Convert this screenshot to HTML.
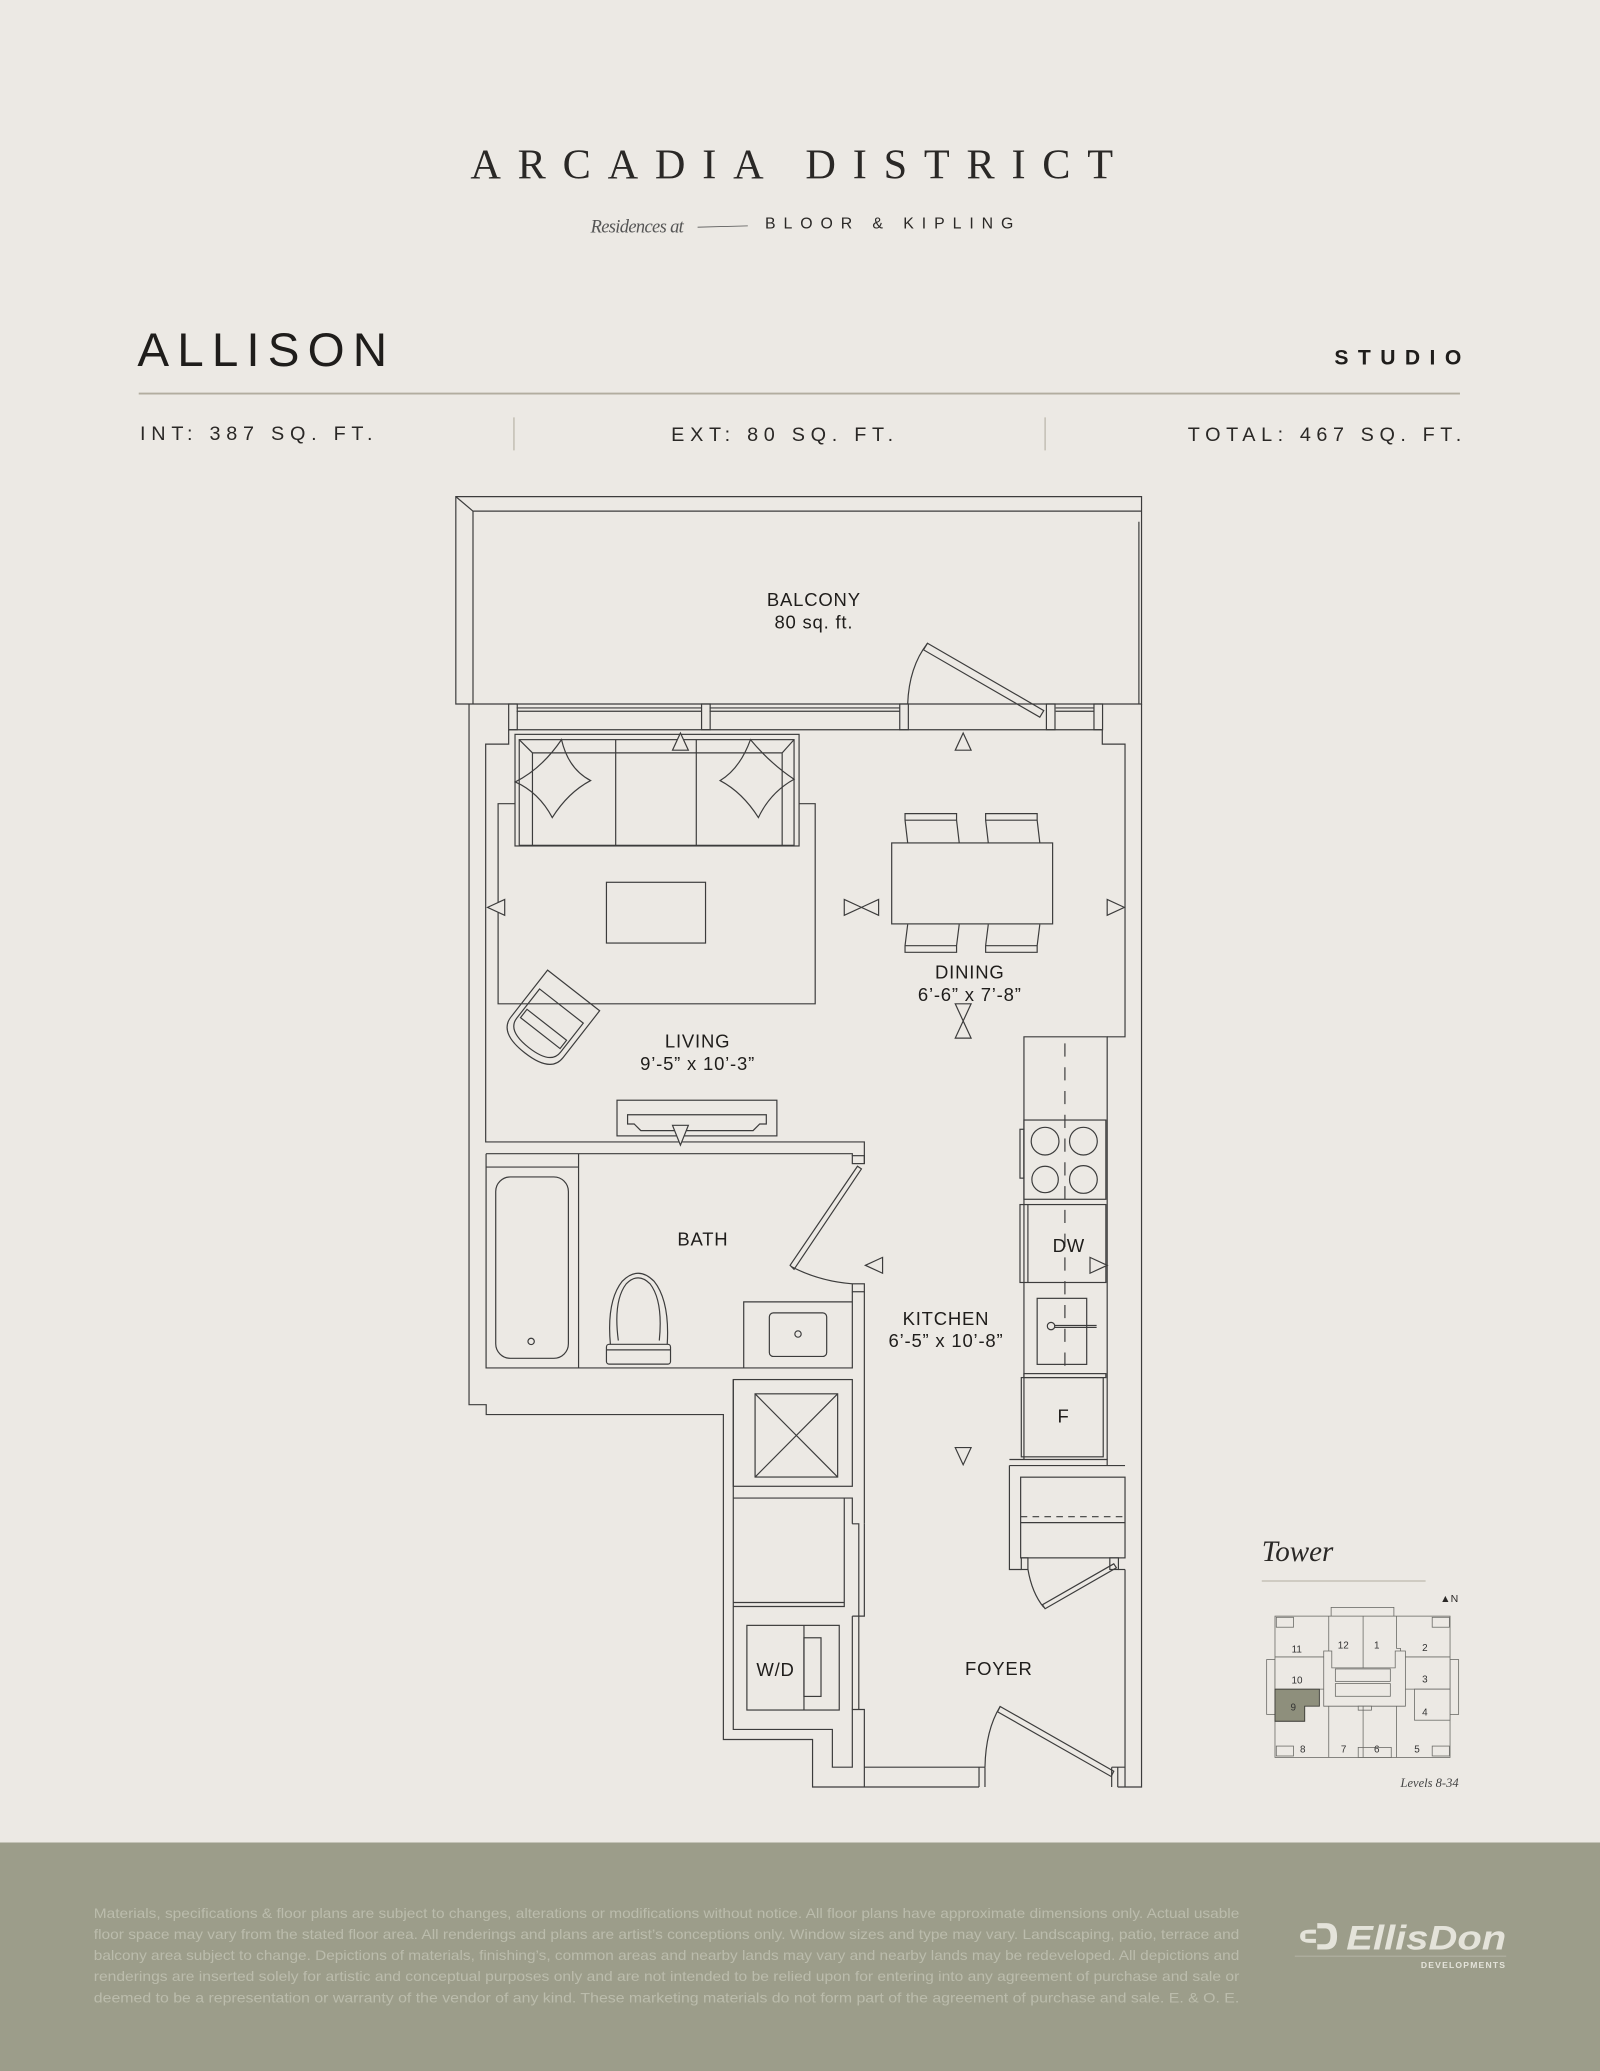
<!DOCTYPE html>
<html><head><meta charset="utf-8"><style>
html,body{margin:0;padding:0;background:#ece9e4;}
svg{display:block;}
</style></head><body>
<svg width="1600" height="2071" viewBox="0 0 1211 1568" preserveAspectRatio="none" xmlns="http://www.w3.org/2000/svg">
<rect width="1211" height="1568" fill="#ece9e4"/>
<!-- header -->
<text x="606" y="135" text-anchor="middle" font-family="Liberation Serif, serif" font-size="32" letter-spacing="13.5" fill="#2a2826" textLength="500" lengthAdjust="spacing">ARCADIA DISTRICT</text>
<text x="447" y="176" font-family="Liberation Serif, serif" font-style="italic" font-size="14" fill="#555" letter-spacing="-0.5">Residences at</text>
<line x1="528" y1="172" x2="566" y2="171" stroke="#555" stroke-width="0.6"/>
<text x="579" y="173" font-family="Liberation Sans, sans-serif" font-size="12" fill="#2a2826" textLength="188" lengthAdjust="spacing">BLOOR &amp; KIPLING</text>
<text x="104" y="277" font-family="Liberation Sans, sans-serif" font-size="36" fill="#1f1d1b" textLength="189" lengthAdjust="spacing">ALLISON</text>
<text x="1010" y="276" font-family="Liberation Sans, sans-serif" font-weight="bold" font-size="16" fill="#1f1d1b" textLength="96" lengthAdjust="spacing">STUDIO</text>
<line x1="105" y1="298" x2="1105" y2="298" stroke="#b2ad9f" stroke-width="1.4"/>
<text x="106" y="333" font-family="Liberation Sans, sans-serif" font-size="15" fill="#2a2826" textLength="176" lengthAdjust="spacing">INT: 387 SQ. FT.</text>
<text x="508" y="334" font-family="Liberation Sans, sans-serif" font-size="15" fill="#2a2826" textLength="168" lengthAdjust="spacing">EXT: 80 SQ. FT.</text>
<text x="899" y="334" font-family="Liberation Sans, sans-serif" font-size="15" fill="#2a2826" textLength="207" lengthAdjust="spacing">TOTAL: 467 SQ. FT.</text>
<line x1="389" y1="316" x2="389" y2="341" stroke="#b2ad9f" stroke-width="0.8"/>
<line x1="791" y1="316" x2="791" y2="341" stroke="#b2ad9f" stroke-width="0.8"/>

<!-- floor plan -->
<g fill="none" stroke="#3c3c3c" stroke-width="0.9" stroke-linejoin="miter">
<path d="M345 533 V376 H864 V533 Z"/>
<path d="M358 533 V387 H864"/>
<line x1="345" y1="376" x2="358" y2="387"/>
<line x1="862" y1="395" x2="862" y2="533"/>
<line x1="385" y1="552.5" x2="834" y2="552.5"/>
<path d="M391 536 H531 M391 538.5 H531 M537 536 H681 M537 538.5 H681 M799 536 H828 M799 538.5 H828"/>
<rect x="385" y="533" width="6.5" height="19.5"/>
<rect x="531" y="533" width="6.5" height="19.5"/>
<rect x="681" y="533" width="6.5" height="19.5"/>
<rect x="792" y="533" width="6.5" height="19.5"/>
<rect x="828" y="533" width="6.5" height="19.5"/>
<path d="M702 487 L790 538 L787 543 L699 492 Z"/>
<path d="M687 533 Q688 505 702 487"/>
<path d="M355 533 V1063.5 H368 V1071 H547.5 V1317 H615 V1353 H741"/>
<path d="M846 1353 H864 V533"/>
<path d="M385 552.5 V563.4 H367.6 V864.6 H654.2 V881"/>
<path d="M834.3 552.5 V563.4 H851.5 V785 H838"/>
<path d="M367.9 873.5 H645.1 V875"/>
<rect x="645.1" y="875" width="9.1" height="6"/>
<rect x="645.1" y="972" width="9.1" height="6"/>
<path d="M367.9 873.5 V1035.7 H645.1 V978"/>
<path d="M654.2 978 V1153.7"/>
<path d="M649 883 L598 958 L601 961 L652 885 Z"/>
<path d="M599 959 Q620 970 645 972"/>
<line x1="437.9" y1="873.5" x2="437.9" y2="1035.7"/>
<line x1="367.9" y1="883.6" x2="437.9" y2="883.6"/>
<rect x="375.2" y="891.1" width="55" height="137.3" rx="11"/>
<circle cx="402" cy="1015.6" r="2.4"/>
<path d="M462 1018 Q459 985 471 970 Q483 958 495 970 Q507 985 505 1018"/>
<path d="M468 1015 Q464 985 474 972 Q483 963 492 972 Q502 985 499 1015"/>
<rect x="459" y="1017.8" width="48.5" height="15" rx="2"/>
<line x1="459" y1="1022" x2="507.5" y2="1022"/>
<path d="M562.9 1035.7 V985.7 H645.1"/>
<rect x="582.3" y="994" width="43.4" height="33" rx="3"/>
<circle cx="604" cy="1010" r="2.4"/>
<rect x="555" y="1044.5" width="90.1" height="80.8"/>
<rect x="571.5" y="1055.3" width="62.5" height="63"/>
<path d="M571.5 1055.3 L634 1118.3 M634 1055.3 L571.5 1118.3"/>
<path d="M555 1044.5 V1309.4 H630 V1338 H645.1 V1294.3 H654.2 V1353"/>
<path d="M555 1134.2 H645.1 V1153.7 M555 1216.3 H639 V1134.2 M555 1213.3 H639"/>
<path d="M645 1153.7 H650 V1223.6 H654.2 V1153.7 M645.1 1223.6 H650 V1294.3 M645.1 1223.6 V1294.3"/>
<rect x="565.3" y="1230.6" width="69.9" height="64.1"/>
<line x1="608.5" y1="1230.6" x2="608.5" y2="1294.7"/>
<rect x="608.5" y="1240" width="12.9" height="44.4"/>
<path d="M654.2 1338 H740 M741 1338 V1353 M745.5 1338 V1353 M740 1338 H745.5"/>
<path d="M846 1338 V1353 M841.4 1338 V1353 M841.4 1338 H851.5 V1188.3 M851.5 1338 V1353"/>
<path d="M757 1292 L843 1341 L841 1345 L755 1296 Z"/>
<path d="M745.5 1338 Q746 1310 757 1292"/>
<path d="M764 1109.6 H851.5 M764 1109.6 V1188.3 H773"/>
<rect x="772.5" y="1118.4" width="79" height="61.1"/>
<line x1="772.5" y1="1148.3" x2="851.5" y2="1148.3" stroke-dasharray="5 4"/>
<line x1="772.5" y1="1152.8" x2="851.5" y2="1152.8"/>
<rect x="773" y="1179.5" width="5" height="8.8"/>
<rect x="840" y="1179.5" width="6.5" height="8.8"/>
<path d="M843 1184 L789 1215 L791 1218 L845 1187 Z"/>
<path d="M778 1188 Q781 1206 790 1217"/>
<path d="M846.5 1188.3 H851.5"/>
<path d="M775 1105 V785 H838 V1105"/>
<path d="M764 1105 H838 V1109.6"/>
<line x1="806" y1="790" x2="806" y2="1040" stroke-dasharray="10 8"/>
<rect x="775" y="848" width="62" height="60"/>
<circle cx="791" cy="864" r="10.5"/><circle cx="820" cy="864" r="10.5"/>
<circle cx="791" cy="893" r="10"/><circle cx="820" cy="893" r="10.5"/>
<rect x="772" y="855" width="3" height="37"/>
<rect x="772" y="912" width="65" height="59"/>
<line x1="778" y1="912" x2="778" y2="971"/>
<rect x="785" y="983" width="37.5" height="50"/>
<circle cx="795.5" cy="1004" r="2.8"/>
<path d="M798 1003.5 H830 M798 1005 H830"/>
<rect x="775" y="1040" width="62" height="3"/>
<rect x="773" y="1043" width="62" height="60"/>
<rect x="389.8" y="556" width="215" height="84.5"/>
<rect x="393" y="560" width="208" height="80"/>
<path d="M393 560 L403 570 H592 L601 560 M403 570 V640 M592 570 V640"/>
<line x1="466" y1="560" x2="466" y2="640"/>
<line x1="527" y1="560" x2="527" y2="640"/>
<path d="M377 640 V608.5 H389.8 M604.8 608.5 H617 V760 H377 V640"/>
<path d="M425 560 Q430 582 447 591 Q430 600 418 619 Q408 600 390 592 Q410 582 425 560 Z"/>
<path d="M568 560 Q583 578 601 590 Q583 600 574 619 Q562 600 545 591 Q560 582 568 560 Z"/>
<rect x="459" y="668" width="75" height="46"/>
<g transform="rotate(38 420 768)">
<path d="M395 745 H445 V790 Q445 805 420 805 Q395 805 395 790 Z"/>
<path d="M399 760 H441 V788 Q441 800 420 800 Q399 800 399 788 Z"/>
<rect x="401" y="778" width="38" height="8"/>
</g>
<rect x="467" y="833" width="121" height="27"/>
<path d="M475 844 H580 V851 H575 L570 856 H485 L480 851 H475 Z"/>
<rect x="674.9" y="638.2" width="121.8" height="61.3"/>
<path d="M687 638 L685 621 V616 H724 V621 L726 638 M685 621 H724"/>
<path d="M748 638 L746 621 V616 H785 V621 L787 638 M746 621 H785"/>
<path d="M687 700 L685 716 V721 H724 V716 L726 700 M685 716 H724"/>
<path d="M748 700 L746 716 V721 H785 V716 L787 700 M746 716 H785"/>
</g>
<g fill="#ece9e4" stroke="#3c3c3c" stroke-width="0.9">
<path d="M515 555 L509 568 H521 Z"/>
<path d="M729 555 L723 568 H735 Z"/>
<path d="M369 687 L382 681 V693 Z"/>
<path d="M851 687 L838 681 V693 Z"/>
<path d="M652 687 L639 681 V693 Z M652 687 L665 681 V693 Z"/>
<path d="M729 773 L723 760 H735 Z M729 773 L723 786 H735 Z"/>
<path d="M515 867 L509 852 H521 Z"/>
<path d="M655 958 L668 952 V964 Z"/>
<path d="M838 958 L825 952 V964 Z"/>
<path d="M729 1109 L723 1096 H735 Z"/>
</g>
<g font-family="Liberation Sans, sans-serif" font-size="14" fill="#1f1d1b" text-anchor="middle" letter-spacing="0.6">
<text x="616" y="459">BALCONY</text><text x="616" y="476">80 sq. ft.</text>
<text x="528" y="793">LIVING</text><text x="528" y="810">9’-5” x 10’-3”</text>
<text x="734" y="741">DINING</text><text x="734" y="758">6’-6” x 7’-8”</text>
<text x="532" y="943">BATH</text>
<text x="716" y="1003">KITCHEN</text><text x="716" y="1020">6’-5” x 10’-8”</text>
<text x="809" y="948">DW</text>
<text x="805" y="1077">F</text>
<text x="587" y="1269">W/D</text>
<text x="756" y="1268">FOYER</text>
</g>

<text x="955" y="1182" font-family="Liberation Serif, serif" font-style="italic" font-size="22" fill="#2a2826">Tower</text>
<line x1="955" y1="1197" x2="1079" y2="1197" stroke="#b2ad9f" stroke-width="0.8"/>
<text x="1090" y="1213" font-family="Liberation Sans, sans-serif" font-size="8" fill="#2a2826">▲N</text>
<g fill="#ece9e4" stroke="#6a6a66" stroke-width="0.6">
<rect x="1007.5" y="1217" width="47.5" height="7"/>
<rect x="958.7" y="1256.5" width="6.3" height="41.5"/>
<rect x="1097.5" y="1256.5" width="6.5" height="41.5"/>
<rect x="965" y="1223.6" width="132.5" height="107"/>
<rect x="1028" y="1323" width="25" height="7.6"/>
<rect x="966" y="1224.5" width="13" height="7.5"/>
<rect x="1084" y="1224.5" width="13" height="7.5"/>
<rect x="966" y="1322" width="13" height="7.5"/>
<rect x="1084" y="1322" width="13" height="7.5"/>
<path d="M1005.7 1223.6 V1262.8 M1031.7 1223.6 V1262.8 M1057 1223.6 V1248 H1060 V1262.8 M965 1254.5 H1001.9 M1063.7 1254.5 H1097.5 M965 1278.9 H1001.9 M1063.7 1278.9 H1097.5"/>
<path d="M1001.9 1250 H1008 V1262.8 H1056 V1250 H1063.7 V1291.8 H1001.9 Z"/>
<rect x="1010.7" y="1263.6" width="41.6" height="9.4"/>
<rect x="1010.7" y="1274.7" width="41.6" height="9.6"/>
<rect x="1028" y="1291.8" width="10" height="3"/>
<path d="M1005.7 1291.8 V1330.6 M1031.7 1291.8 V1330.6 M1057 1291.8 V1330.6"/>
<rect x="1070.6" y="1278.9" width="26.9" height="23.5"/>
<path d="M965 1303.2 H987.5" />
</g>
<path d="M965 1278.9 H998.6 V1291.8 H987.5 V1303.2 H965 Z" fill="#8e8f7c" stroke="#3e3e38" stroke-width="0.7"/>
<g font-family="Liberation Sans, sans-serif" font-size="7.5" fill="#333" text-anchor="middle">
<text x="981.5" y="1251">11</text><text x="1016.7" y="1248">12</text><text x="1042" y="1248">1</text><text x="1078.5" y="1250">2</text>
<text x="981.7" y="1274.5">10</text><text x="1078.5" y="1274">3</text><text x="978.8" y="1295">9</text><text x="1078.5" y="1299">4</text>
<text x="986" y="1327">8</text><text x="1017" y="1327">7</text><text x="1042" y="1327">6</text><text x="1072.5" y="1327">5</text>
</g>
<text x="1104" y="1353" text-anchor="end" font-family="Liberation Serif, serif" font-style="italic" font-size="9.5" fill="#444">Levels 8-34</text>

<rect x="0" y="1395" width="1211" height="173" fill="#9c9d8a"/>
<g font-family="Liberation Sans, sans-serif" font-size="10.5" fill="#bbbcac">
<text x="71" y="1452" textLength="867" lengthAdjust="spacingAndGlyphs">Materials, specifications &amp; floor plans are subject to changes, alterations or modifications without notice. All floor plans have approximate dimensions only. Actual usable</text>
<text x="71" y="1468" textLength="867" lengthAdjust="spacingAndGlyphs">floor space may vary from the stated floor area. All renderings and plans are artist’s conceptions only. Window sizes and type may vary. Landscaping, patio, terrace and</text>
<text x="71" y="1484" textLength="867" lengthAdjust="spacingAndGlyphs">balcony area subject to change. Depictions of materials, finishing’s, common areas and nearby lands may vary and nearby lands may be redeveloped. All depictions and</text>
<text x="71" y="1500" textLength="867" lengthAdjust="spacingAndGlyphs">renderings are inserted solely for artistic and conceptual purposes only and are not intended to be relied upon for entering into any agreement of purchase and sale or</text>
<text x="71" y="1516" textLength="867" lengthAdjust="spacingAndGlyphs">deemed to be a representation or warranty of the vendor of any kind. These marketing materials do not form part of the agreement of purchase and sale. E. &amp; O. E.</text>
</g>
<g fill="#e4e3da">
<path d="M997 1456 H1004 Q1012 1456 1012 1466 Q1012 1476 1004 1476 H997 V1472 H1003 Q1007 1472 1007 1466 Q1007 1460 1003 1460 H997 Z"/>
<path d="M992 1461 Q984 1461 984 1466 Q984 1471 992 1471 H996 V1468 H988 V1464 H996 V1461 Z"/>
<text x="1019" y="1476" font-family="Liberation Sans, sans-serif" font-weight="bold" font-style="italic" font-size="26" textLength="121" lengthAdjust="spacingAndGlyphs">EllisDon</text>
<text x="1140" y="1490" text-anchor="end" font-family="Liberation Sans, sans-serif" font-weight="bold" font-size="6.5" letter-spacing="0.9">DEVELOPMENTS</text>
</g>
<line x1="980" y1="1481" x2="1140" y2="1481" stroke="#bcbcae" stroke-width="0.6"/>
</svg>
</body></html>
